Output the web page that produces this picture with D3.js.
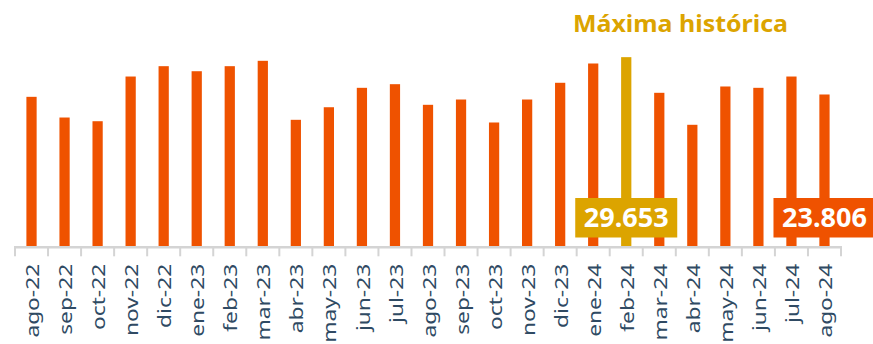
<!DOCTYPE html>
<html>
<head>
<meta charset="utf-8">
<script src="https://cdn.jsdelivr.net/npm/d3@7"></script>
<style>
  html, body { margin: 0; padding: 0; background: #ffffff; }
  svg { display: block; }
</style>
</head>
<body>
<svg id="chart" width="873" height="344"></svg>
<script>
// Monthly values, ago-22 .. ago-24
const months = ["ago-22","sep-22","oct-22","nov-22","dic-22","ene-23","feb-23","mar-23","abr-23",
  "may-23","jun-23","jul-23","ago-23","sep-23","oct-23","nov-23","dic-23","ene-24","feb-24",
  "mar-24","abr-24","may-24","jun-24","jul-24","ago-24"];
const values = [23440, 20200, 19620, 26620, 28240, 27450, 28240, 29080, 19840,
  21810, 24850, 25420, 22190, 23020, 19420, 23020, 25640, 28660, 29653,
  24070, 19060, 25060, 24850, 26620, 23806];
// Months that carry a value box
const highlightMonth = "feb-24";
const lastMonth = "ago-24";
const titleText = "Máxima histórica";

const ORANGE = "#ef5200";
const GOLD = "#dca400";
const LABEL = "#2f4a63";
const AXIS = "#d4d4d4";

const width = 873, height = 344;
const baseY = 246.5;

const svg = d3.select("#chart");
const fmt = d3.formatLocale({ decimal: ",", thousands: ".", grouping: [3], currency: ["", ""] }).format(",d");

const data = months.map((m, i) => ({ month: m, value: values[i] }));

const x = d3.scaleBand().domain(months).range([15, 841]).padding(0);
const y = d3.scaleLinear().domain([0, 34000]).range([baseY, 29.4]);
const barW = x.bandwidth() * 0.31;
const cx = m => x(m) + x.bandwidth() / 2;

// Bars
svg.append("g").selectAll("rect")
  .data(data)
  .join("rect")
  .attr("x", d => cx(d.month) - barW / 2)
  .attr("width", barW)
  .attr("y", d => y(d.value))
  .attr("height", d => y(0) - y(d.value))
  .attr("fill", d => d.month === highlightMonth ? GOLD : ORANGE);

// Axis baseline and boundary ticks
const axisG = svg.append("g").attr("transform", `translate(0,${baseY + 0.8})`);
const edges = months.map(m => x(m)).concat([x.range()[1]]);
axisG.append("line")
  .attr("x1", x.range()[0] - 1).attr("x2", x.range()[1] + 1)
  .attr("y1", 0).attr("y2", 0)
  .attr("stroke", AXIS).attr("stroke-width", 2.5);
axisG.selectAll("line.tick")
  .data(edges)
  .join("line")
  .attr("class", "tick")
  .attr("x1", d => d).attr("x2", d => d)
  .attr("y1", 0).attr("y2", 9)
  .attr("stroke", AXIS).attr("stroke-width", 2);

// Month labels, rotated and stretched along the reading direction
const stretch = 1.3;
const labelAxis = d3.axisBottom(x).tickSize(0).tickSizeOuter(0);
const labG = svg.append("g").attr("transform", `translate(0,${baseY + 0.8})`).call(labelAxis);
labG.select(".domain").remove();
labG.selectAll(".tick text")
  .attr("font-family", "'Noto Sans', sans-serif")
  .attr("font-size", 17.5)
  .attr("fill", LABEL)
  .attr("text-anchor", "end")
  .attr("transform", `rotate(-90) scale(${stretch},1)`)
  .attr("x", -16.5 / stretch)
  .attr("y", 0)
  .attr("dy", 7.6);

// Value boxes
function valueBox(month, color) {
  const d = data.find(e => e.month === month);
  const g = svg.append("g").attr("transform", `translate(${cx(month)},0)`);
  g.append("rect")
    .attr("x", -51).attr("width", 102)
    .attr("y", 198).attr("height", 39.5)
    .attr("fill", color);
  g.append("text")
    .attr("x", 0).attr("y", 227.3)
    .attr("text-anchor", "middle")
    .attr("font-family", "'Noto Sans', sans-serif")
    .attr("font-weight", 700)
    .attr("font-size", 27)
    .attr("fill", "#ffffff")
    .text(fmt(d.value));
}
valueBox(highlightMonth, GOLD);
valueBox(lastMonth, ORANGE);

// Record annotation
svg.append("text")
  .attr("x", 573).attr("y", 31.7)
  .attr("font-family", "'Noto Sans', sans-serif")
  .attr("font-weight", 700)
  .attr("font-size", 24)
  .attr("fill", GOLD)
  .attr("textLength", 215)
  .attr("lengthAdjust", "spacingAndGlyphs")
  .text(titleText);
</script>
</body>
</html>
